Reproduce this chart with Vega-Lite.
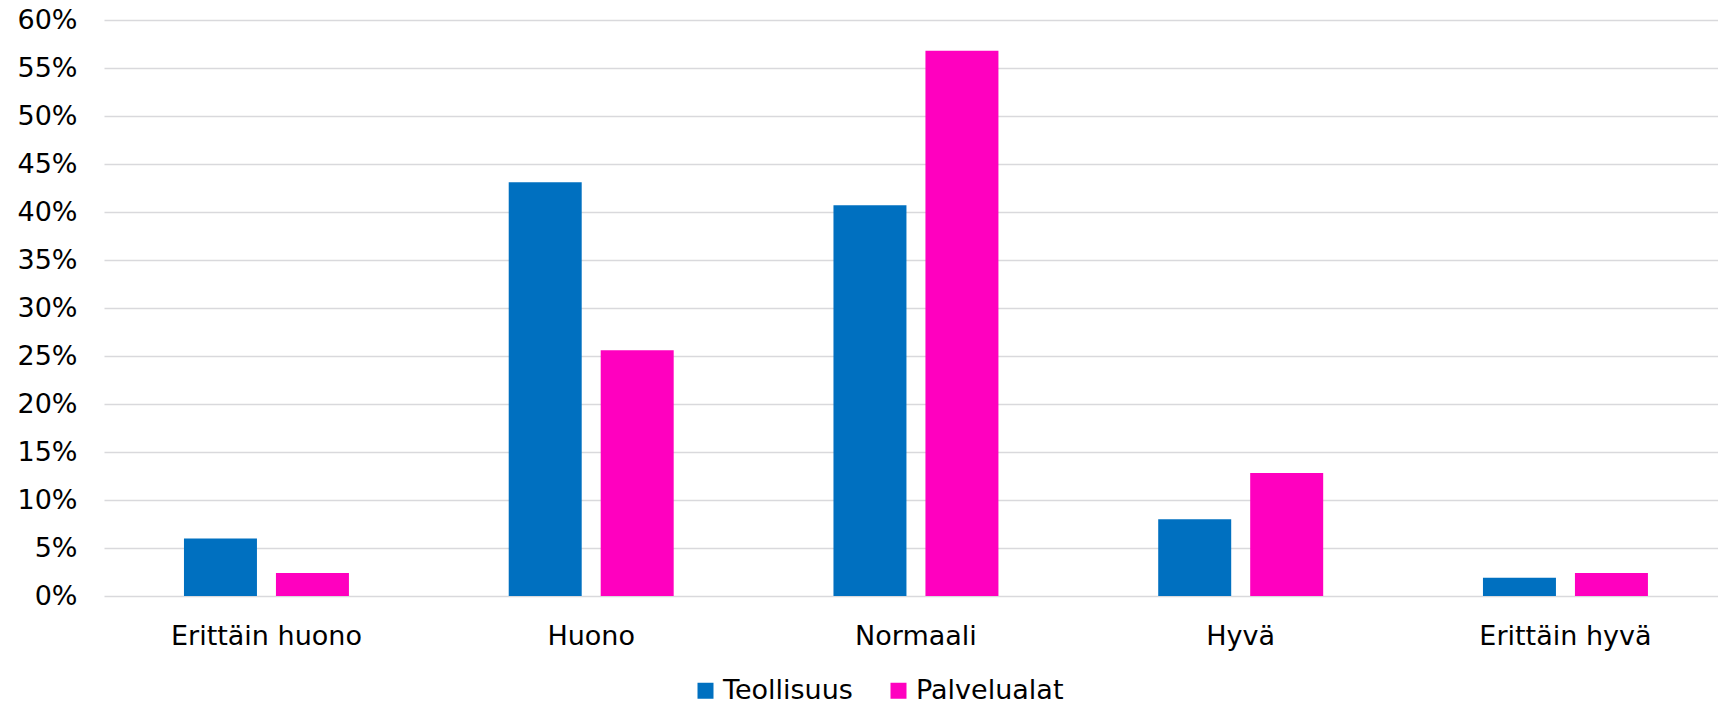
{
  "$schema": "https://vega.github.io/schema/vega-lite/v6.json",
  "width": 1614,
  "height": 576,
  "autosize": {"type": "none"},
  "padding": {"left": 104, "top": 20, "right": 0, "bottom": 108},
  "background": "white",
  "config": {"view": {"stroke": null}, "font": "DejaVu Sans"},
  "data": {
    "values": [
      {"category": "Erittäin huono", "series": "Teollisuus", "value": 0.060},
      {"category": "Erittäin huono", "series": "Palvelualat", "value": 0.024},
      {"category": "Huono", "series": "Teollisuus", "value": 0.431},
      {"category": "Huono", "series": "Palvelualat", "value": 0.256},
      {"category": "Normaali", "series": "Teollisuus", "value": 0.407},
      {"category": "Normaali", "series": "Palvelualat", "value": 0.568},
      {"category": "Hyvä", "series": "Teollisuus", "value": 0.080},
      {"category": "Hyvä", "series": "Palvelualat", "value": 0.128},
      {"category": "Erittäin hyvä", "series": "Teollisuus", "value": 0.019},
      {"category": "Erittäin hyvä", "series": "Palvelualat", "value": 0.024}
    ]
  },
  "mark": {"type": "bar"},
  "encoding": {
    "x": {
      "field": "category",
      "type": "nominal",
      "sort": ["Erittäin huono", "Huono", "Normaali", "Hyvä", "Erittäin hyvä"],
      "scale": {"paddingInner": 0.492, "paddingOuter": 0.231, "align": 0.533},
      "axis": {
        "title": null,
        "labelAngle": 0,
        "labelFontSize": 27,
        "labelColor": "#000000",
        "labelPadding": 27,
        "labelBaseline": "top",
        "labelLimit": 0,
        "ticks": false,
        "domain": false
      }
    },
    "xOffset": {
      "field": "series",
      "type": "nominal",
      "sort": ["Teollisuus", "Palvelualat"],
      "scale": {"paddingInner": 0.2065, "paddingOuter": 0}
    },
    "y": {
      "field": "value",
      "type": "quantitative",
      "scale": {"domain": [0, 0.6], "nice": false},
      "axis": {
        "title": null,
        "values": [0, 0.05, 0.1, 0.15, 0.2, 0.25, 0.3, 0.35, 0.4, 0.45, 0.5, 0.55, 0.6],
        "format": ".0%",
        "labelFontSize": 27,
        "labelColor": "#000000",
        "labelPadding": 27,
        "ticks": false,
        "domain": false,
        "gridColor": "#d9d9dc",
        "gridWidth": 1.5
      }
    },
    "color": {
      "field": "series",
      "type": "nominal",
      "sort": ["Teollisuus", "Palvelualat"],
      "scale": {"domain": ["Teollisuus", "Palvelualat"], "range": ["#0070C0", "#FF00BF"]},
      "legend": {
        "title": null,
        "orient": "none",
        "direction": "horizontal",
        "legendX": 588,
        "legendY": 657,
        "padding": 0,
        "symbolType": "square",
        "symbolSize": 256,
        "symbolStrokeWidth": 0,
        "symbolOpacity": 1,
        "labelFontSize": 27,
        "labelColor": "#000000",
        "labelOffset": 4,
        "columnPadding": 32
      }
    }
  }
}
